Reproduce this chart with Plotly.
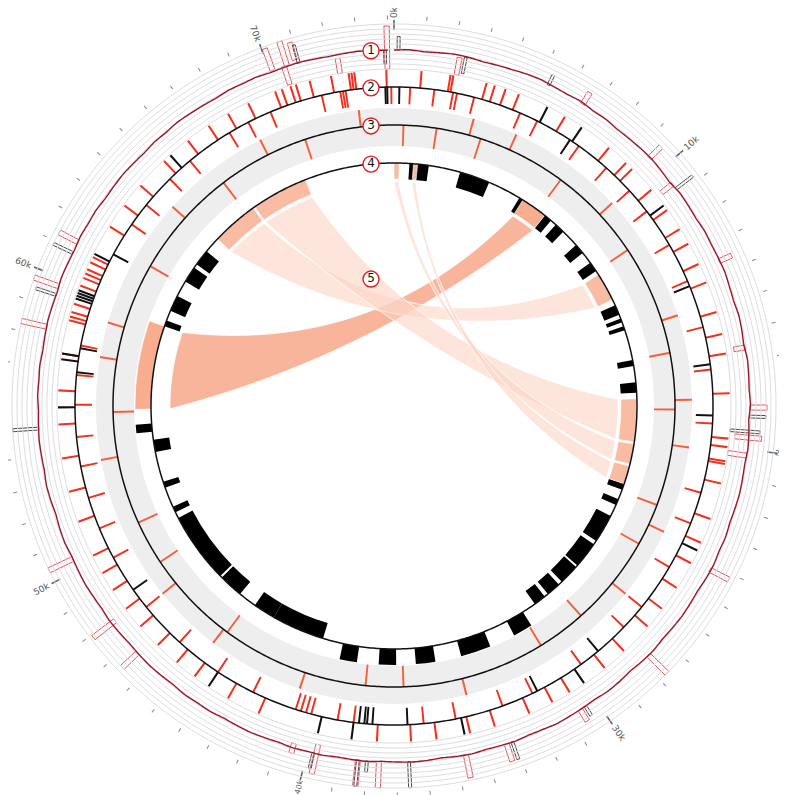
import numpy as np
import plotly.graph_objects as go

W, H = 787, 795
CX, CY = 386, 398          # circle centre in pixels
RMAX = 386                 # radial range, 1 unit = 1 px
GENOME_KB = 74.2

# ---------------- data ----------------
major_ticks_kb = [0, 10, 20, 30, 40, 50, 60, 70]
major_labels = ["0k", "10k", "20k", "30k", "40k", "50k", "60k", "70k"]
minor_ticks_kb = [k for k in range(0, 75) if k % 10 != 0]

# track 1 : coverage line, one value per 0.5 kb (value units: 0..9 ring index)
cov_val = [3.8, 3.9, 3.7, 3.8, 4.0, 3.9, 3.7, 3.8, 3.9, 4.1, 4.2, 4.0, 3.9, 4.1, 3.8, 3.9, 3.7, 3.8, 3.9, 4.0,
           3.8, 3.6, 3.9, 3.8, 3.7, 3.9, 3.8, 3.9, 4.0, 3.8, 3.7, 3.9, 3.8, 3.6, 3.9, 3.8, 3.7, 3.9, 3.6, 3.8,
           3.9, 3.7, 3.8, 3.9, 3.8, 3.7, 3.9, 3.8, 4.0, 3.9, 3.7, 3.8, 3.9, 3.8, 3.7, 3.9, 3.8, 3.6, 3.8, 3.9,
           3.7, 3.8, 3.9, 4.0, 3.8, 3.7, 3.9, 3.8, 3.7, 3.9, 3.8, 3.6, 3.8, 3.9, 3.8, 3.7, 3.9, 3.8, 3.7, 3.9,
           3.8, 3.9, 3.7, 3.8, 3.9, 3.8, 3.7, 3.9, 3.8, 3.9, 3.7, 3.8, 3.9, 3.8, 3.7, 3.8, 3.9, 3.7, 3.8, 3.9,
           3.8, 3.7, 3.9, 3.8, 3.6, 3.8, 3.9, 3.7, 3.8, 3.9, 3.8, 3.7, 3.9, 3.8, 3.9, 3.7, 3.8, 3.9, 3.8, 3.7,
           3.9, 3.8, 3.7, 3.9, 3.8, 3.9, 3.7, 3.8, 3.9, 3.8, 3.7, 3.9, 3.8, 4.0, 3.9, 3.8, 3.7, 3.9, 3.8, 3.9,
           3.7, 3.8, 3.9, 3.8, 3.7, 3.8, 3.9, 3.8, 3.8]
t1_red_pos = [73.97, 70.1, 70.5, 70.6, 70.9, 72.3, 2.2, 6.6, 9.45, 10.6, 13.6, 16.6, 18.6, 19.6, 20.2,
              24.2, 27.7, 30.6, 33.3, 34.7, 37.6, 38.3, 39.7, 40.5, 46.6, 47.9, 50.4, 58.3, 59.7, 61.3]
t1_red_lo = [0.0, 4.0, 0.2, 4.0, 4.6, 0.0, 0.0, 3.8, 3.8, 1.0, 3.8, 1.5, 3.8, 1.0, 0.0,
             3.8, 3.8, 3.8, 3.8, 3.8, 3.8, 3.8, 2.0, 3.0, 3.8, 3.0, 3.8, 3.8, 3.8, 3.8]
t1_red_hi = [8.6, 8.6, 4.0, 9.0, 8.2, 3.0, 3.5, 6.5, 7.0, 3.8, 6.5, 3.8, 7.2, 6.4, 3.8,
             8.0, 9.0, 6.5, 7.5, 8.5, 9.0, 9.0, 8.0, 5.0, 8.0, 8.5, 9.0, 9.0, 9.0, 8.0]
t1_blk_pos = [73.9, 0.15, 2.4, 5.3, 10.8, 18.9, 19.4, 30.4, 33.1, 36.6, 38.0, 38.3, 39.8, 54.9, 59.4,
              60.9, 71.0]
t1_blk_lo = [1.0, 3.8, 0.5, 3.8, 3.8, 3.8, 0.0, 3.8, 3.8, 3.8, 3.8, 3.8, 3.8, 3.8, 3.8,
             3.8, 3.8]
t1_blk_hi = [3.8, 6.5, 3.8, 6.0, 8.0, 7.0, 6.0, 6.0, 7.5, 9.0, 6.0, 9.0, 7.0, 9.0, 8.0,
             8.0, 7.5]

# track 2 : features, outside (+) / inside (-) of the circle
t2_red_out = [72.6, 72.7, 72.8, 73.93, 0.97, 2.0, 2.1, 69.93, 70.18, 70.5, 70.7, 71.97, 18.1, 19.7, 20.0,
              20.5, 20.6, 21.3, 61.07, 60.87, 60.6, 60.44, 60.27, 59.98, 59.3, 59.0, 58.83, 58.7, 50.2,
              49.5, 37.7, 3.3, 3.6, 4.0, 4.5, 6.3, 8.2, 9.0, 9.3, 10.3, 11.2, 12.0, 12.6, 13.4, 14.1,
              15.2, 16.0, 16.7, 22.6, 23.5, 24.3, 25.3, 26.2, 27.0, 28.2, 29.1, 30.6, 31.3, 32.2, 33.5,
              34.4, 35.6, 36.5, 42.0, 43.2, 44.6, 45.4, 46.3, 47.2, 48.0, 48.8, 51.5, 52.6, 53.8, 55.0,
              56.2, 57.5, 62.3, 63.2, 64.1, 65.3, 66.4, 67.3, 68.1, 68.9, 71.2]
t2_red_in = [72.2, 72.3, 72.4, 74.1, 0.6, 2.2, 2.35, 40.2, 40.4, 40.6, 40.8, 38.6, 1.5, 3.0, 4.8, 5.5,
             7.3, 8.6, 9.8, 10.8, 12.3, 13.8, 15.6, 17.2, 19.2, 21.8, 23.0, 24.8, 26.6, 27.6, 29.7,
             31.8, 33.0, 34.8, 36.0, 39.2, 42.5, 44.0, 45.8, 47.6, 49.8, 51.0, 52.2, 53.4, 54.5, 55.7,
             56.8, 57.9, 62.8, 63.7, 65.0, 66.0, 67.8, 68.6, 69.5, 71.5]
t2_blk_out = [61.2, 39.8, 38.6, 59.8, 59.7, 59.6, 59.5, 57.3, 57.5, 5.6, 7.0, 11.0, 23.8, 30.0, 34.6,
              44.0, 55.6, 65.6]
t2_blk_in = [73.88, 73.95, 0.2, 18.9, 38.4, 38.2, 38.1, 37.9, 6.9, 14.0, 17.0, 28.9, 31.6, 36.6, 48.4,
             56.9, 57.8, 61.5]

# track 3 : marks inside / outside the band circle
t3_out = [72.8, 18.3, 5.0, 9.7, 14.9, 20.2, 26.6, 34.2, 40.9, 47.6, 53.5, 59.0, 64.3, 68.7, 3.2, 23.7,
          44.8, 57.6]
t3_in = [0.4, 1.8, 18.7, 3.7, 7.5, 11.6, 16.3, 22.8, 24.6, 30.6, 36.7, 44.6, 50.6, 55.4, 61.8, 66.5,
         28.5, 38.3, 48.7, 70.4]

# track 4 : blocks (start kb, end kb, side +1 outside / -1 inside)
t4_start = [0.75, 3.25, 6.4, 7.9, 8.6, 10.0, 11.1, 13.5, 14.2, 14.6, 16.3, 17.4, 22.4, 23.2, 24.1,
            25.7, 27.1, 28.3, 29.2, 30.5, 32.6, 35.2, 37.0, 38.8, 40.6, 43.2, 45.2, 46.5, 50.3,
            51.6, 53.4, 54.4, 59.6, 60.4, 62.0, 63.0]
t4_end = [1.7, 4.75, 6.7, 8.3, 9.1, 10.5, 11.6, 14.0, 14.4, 14.8, 16.6, 17.9, 22.7, 23.5, 25.5,
          27.0, 28.1, 29.0, 29.8, 31.4, 34.0, 36.1, 37.8, 39.6, 43.2, 44.3, 46.4, 50.0, 50.6,
          51.9, 54.0, 54.8, 59.9, 61.2, 62.8, 63.8]
t4_side = [-1, -1, -1, -1, -1, -1, -1, -1, -1, -1, -1, -1, -1, -1, -1,
           -1, -1, -1, -1, 1, 1, 1, 1, 1, -1, -1, -1, -1, -1,
           -1, -1, 1, -1, -1, -1, -1]

# track 5 : links (region A <-> region B), end sides and shade (1 = dark, 0 = light)
link_a_start = [55.5, 64.6, 67.0, 0.0, 0.95]
link_a_end = [59.6, 66.9, 69.8, 0.25, 1.15]
link_b_start = [6.6, 11.8, 18.2, 20.4, 21.5]
link_b_end = [7.9, 13.2, 20.3, 21.4, 22.4]
link_a_side = [1, -1, -1, -1, -1]
link_b_side = [-1, -1, -1, -1, -1]
link_shade = [1, 0, 0, 0, 0]

# circled track numbers
label_text = ["1", "2", "3", "4", "5"]
label_r = [356, 319, 281, 243, 129]

# ---------------- geometry helpers ----------------
def ang(kb):
    return np.asarray(kb, dtype=float) / GENOME_KB * 360.0

R1_IN, R1_STEP, N_RINGS = 337, 5, 10
R2, R2_LEN = 319, 17
R3, R3_IN, R3_OUT = 281, 260, 298
R4, R4_LEN = 243, 16
R5 = 224
BEZ_R = 55

def t1_r(v):
    return R1_IN + R1_STEP * np.asarray(v, dtype=float)

fig = go.Figure()
circ = np.linspace(0, 360, 721)

def circle(r, color, width):
    fig.add_trace(go.Scatterpolar(r=np.full(circ.shape, r), theta=circ, mode="lines",
                                  line=dict(color=color, width=width), hoverinfo="skip"))

def ticks(pos, base, length, color, width_deg):
    if len(pos) == 0:
        return
    fig.add_trace(go.Barpolar(theta=ang(pos), r=np.full(len(pos), length), base=np.full(len(pos), base),
                              width=np.full(len(pos), width_deg), marker=dict(color=color, line=dict(width=0)),
                              hoverinfo="skip"))

# track 3 grey band
fig.add_trace(go.Barpolar(theta=[45, 135, 225, 315], r=[R3_OUT - R3_IN] * 4, base=[R3_IN] * 4,
                          width=[90.2] * 4, marker=dict(color="#eeeeee", line=dict(width=0)),
                          hoverinfo="skip"))

# track 1 rings
for i in range(N_RINGS):
    circle(R1_IN + R1_STEP * i, "#dcdcdc", 1)

# track 1 spikes (outlined boxes)
def spikes(pos, lo, hi, color, wdeg):
    lo = t1_r(lo); hi = t1_r(hi)
    fig.add_trace(go.Barpolar(theta=ang(pos), r=hi - lo, base=lo, width=np.full(len(pos), wdeg),
                              marker=dict(color="rgba(255,255,255,0)", line=dict(color=color, width=0.9)),
                              hoverinfo="skip"))

spikes(t1_red_pos, t1_red_lo, t1_red_hi, "#e0404c", 0.8)
spikes(t1_blk_pos, t1_blk_lo, t1_blk_hi, "#333333", 0.45)
cov_pos = np.arange(len(cov_val)) * 0.5
dense = np.linspace(0, cov_pos[-1], 1200)       # dense sampling only so the line follows the circle
fig.add_trace(go.Scatterpolar(r=t1_r(np.interp(dense, cov_pos, cov_val)), theta=ang(dense), mode="lines",
                              line=dict(color="#a0142a", width=1.4), hoverinfo="skip"))

# track 2
ticks(t2_red_out, R2, R2_LEN, "#f2301e", 0.36)
ticks(t2_red_in, R2 - R2_LEN, R2_LEN, "#f2301e", 0.36)
ticks(t2_blk_out, R2, R2_LEN, "#111111", 0.36)
ticks(t2_blk_in, R2 - R2_LEN, R2_LEN, "#111111", 0.36)
circle(R2, "#111111", 1.5)

# track 3
ticks(t3_out, R3, R3_OUT - R3, "#f5603c", 0.4)
ticks(t3_in, R3_IN, R3 - R3_IN, "#f5603c", 0.4)
circle(R3, "#111111", 1.5)

# track 4 blocks
s = np.asarray(t4_start); e = np.asarray(t4_end); sd = np.asarray(t4_side)
fig.add_trace(go.Barpolar(theta=ang((s + e) / 2), width=ang(e - s), r=np.full(len(s), R4_LEN),
                          base=np.where(sd > 0, R4, R4 - R4_LEN),
                          marker=dict(color="#000000", line=dict(width=0)), hoverinfo="skip"))

# track 5 links
def xy(theta_deg, r):
    t = np.radians(theta_deg)
    return r * np.sin(t), r * np.cos(t)

def arc(a0, a1, r, n=40):
    t = np.linspace(a0, a1, n)
    return xy(t, r)

def bez(p0, th0, p2, th2, n=80):
    u = np.array(xy(th0, 1.0)) + np.array(xy(th2, 1.0))
    nrm = np.hypot(*u)
    c = u / nrm * BEZ_R if nrm > 1e-6 else np.zeros(2)
    t = np.linspace(0, 1, n)[:, None]
    pts = (1 - t) ** 2 * np.array(p0) + 2 * (1 - t) * t * c + t ** 2 * np.array(p2)
    return pts[:, 0], pts[:, 1]

for a0, a1, b0, b1, sa, sb, sh in zip(link_a_start, link_a_end, link_b_start, link_b_end,
                                      link_a_side, link_b_side, link_shade):
    A0, A1, B0, B1 = ang([a0, a1, b0, b1])
    xs, ys = [], []
    x, y = arc(A0, A1, R5); xs += list(x); ys += list(y)
    x, y = bez((x[-1], y[-1]), A1, xy(B0, R5), B0); xs += list(x); ys += list(y)
    x, y = arc(B0, B1, R5); xs += list(x); ys += list(y)
    x, y = bez((x[-1], y[-1]), B1, xy(A0, R5), A0); xs += list(x); ys += list(y)
    xs = np.array(xs); ys = np.array(ys)
    rr = np.hypot(xs, ys); th = np.degrees(np.arctan2(xs, ys))
    col = "rgba(248,168,138,0.85)" if sh else "rgba(252,212,196,0.6)"
    fig.add_trace(go.Scatterpolar(r=rr, theta=th, mode="lines", fill="toself", fillcolor=col,
                                  line=dict(width=0.8, color="white"), hoverinfo="skip"))
    endcol = "#f7ad8e" if sh else "#f9bba2"
    fig.add_trace(go.Barpolar(theta=ang([(a0 + a1) / 2, (b0 + b1) / 2]), width=ang([a1 - a0, b1 - b0]),
                              r=[R4_LEN, R4_LEN],
                              base=[R4 if sa > 0 else R4 - R4_LEN, R4 if sb > 0 else R4 - R4_LEN],
                              marker=dict(color=endcol, line=dict(width=0.6, color="white")), hoverinfo="skip"))

circle(R4, "#111111", 1.5)

# major ticks on the outer edge
ticks(major_ticks_kb, RMAX - 10, 10, "#666666", 0.25)

# circled labels
lab_theta = np.degrees(np.arcsin(-23.0 / np.asarray(label_r, float)))
fig.add_trace(go.Scatterpolar(r=label_r, theta=lab_theta, mode="markers+text", text=label_text,
                              textposition="middle center",
                              textfont=dict(family="DejaVu Sans", size=12, color="#111111"),
                              marker=dict(size=16, color="white", line=dict(color="#e02020", width=1.4)),
                              hoverinfo="skip"))

# rotated tick labels (placed just beyond the outer edge, kept inside the canvas)
annotations = []
for kb, lab in zip(major_ticks_kb, major_labels):
    th = kb / GENOME_KB * 360.0
    rr = {0: RMAX + 8, 20: RMAX + 5, 40: RMAX + 6}.get(kb, RMAX + 11)
    fs = {20: 7, 40: 7.5}.get(kb, 9)
    px = CX + rr * np.sin(np.radians(th)); py = CY - rr * np.cos(np.radians(th))
    tang = th - 90 if th <= 180 else th - 270
    if kb == 0:
        tang = -90
    annotations.append(dict(x=px / W, y=1 - py / H, xref="paper", yref="paper", text=lab, showarrow=False,
                            textangle=tang, xanchor="center", yanchor="middle", borderpad=0,
                            font=dict(family="DejaVu Sans", size=fs, color="#555555")))

fig.update_layout(
    width=W, height=H, margin=dict(l=0, r=0, t=0, b=0),
    paper_bgcolor="white", plot_bgcolor="white", showlegend=False,
    annotations=annotations,
    polar=dict(
        domain=dict(x=[0, 2 * RMAX / W], y=[(H - CY - RMAX) / H, (H - CY + RMAX) / H]),
        bgcolor="white", barmode="overlay",
        radialaxis=dict(range=[0, RMAX], visible=False),
        angularaxis=dict(rotation=90, direction="clockwise", thetaunit="degrees", showgrid=False,
                         showline=False, ticks="outside", ticklen=4, tickwidth=1, tickcolor="#888888",
                         tickmode="array", tickvals=list(ang(minor_ticks_kb)), showticklabels=False),
    ),
)
fig.write_html("out.html")
